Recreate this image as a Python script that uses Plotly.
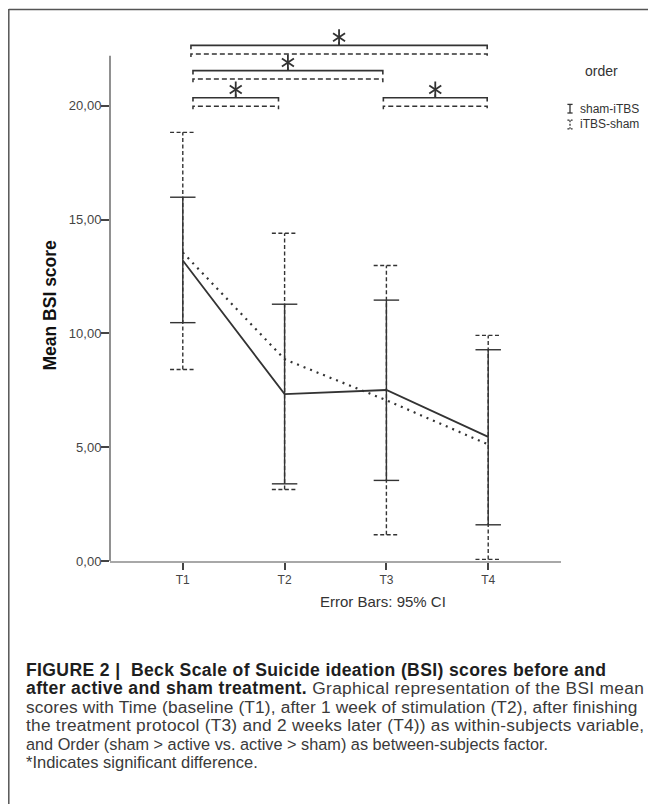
import plotly.graph_objects as go

# ---------------- data ----------------
times = ["T1", "T2", "T3", "T4"]
y_tick_vals = [0, 5, 10, 15, 20]
y_tick_text = ["0,00", "5,00", "10,00", "15,00", "20,00"]

sham_itbs_mean = [13.20, 7.33, 7.51, 5.45]
sham_itbs_lo = [10.47, 3.39, 3.54, 1.59]
sham_itbs_hi = [15.98, 11.28, 11.46, 9.28]

itbs_sham_mean = [13.55, 8.86, 7.06, 5.12]
itbs_sham_lo = [8.41, 3.14, 1.15, 0.07]
itbs_sham_hi = [18.83, 14.40, 12.98, 9.91]

series_names = ["sham-iTBS", "iTBS-sham"]

# significant comparisons (index of time points)
sig_pairs = [(0, 3), (0, 2), (0, 1), (2, 3)]

caption_bold = [
    "FIGURE 2 |  Beck Scale of Suicide ideation (BSI) scores before and",
    "after active and sham treatment.",
]
caption_regular = [
    " Graphical representation of the BSI mean",
    "scores with Time (baseline (T1), after 1 week of stimulation (T2), after finishing",
    "the treatment protocol (T3) and 2 weeks later (T4)) as within-subjects variable,",
    "and Order (sham &gt; active vs. active &gt; sham) as between-subjects factor.",
    "*Indicates significant difference.",
]
# per-line sizes / letter spacing (px) chosen so line widths match the reference
BOLD_SIZE = 17.6
BOLD_LS = 0.35
regular_sizes = [17.3, 17.3, 17.3, 16.3, 16.5]
regular_ls = [0.35, 0.15, 0.25, 0.0, 0.0]

# ---------------- layout constants ----------------
OFF = 8                      # default page (body) margin
W, H = 648, 796
ML, MR, MT, MB = 102, 95, 17, 243
PW = W - ML - MR
PH = H - MT - MB
Y_TOP = PH / 22.765
X_RANGE = [-0.715, 3.715]
CAP = 0.125
INK = "#333333"
FONT = "Liberation Sans, Arial"

bracket_solid_y = [22.65, 21.54, 20.35, 20.35]
bracket_dash_y = [22.27, 21.17, 19.98, 19.98]
bracket_x0_off = [0.08, 0.10, 0.10, -0.03]
bracket_x1_off = [-0.01, -0.035, -0.06, -0.01]
DROP = 0.17
STAR_UP = 0.36


def px2x(px):  # page px -> paper x
    return (px - OFF - ML) / PW


def py2y(py):  # page px -> paper y
    return (H - MB - (py - OFF)) / PH


xs = list(range(len(times)))
fig = go.Figure()


def errorbar_path(lo_vals, hi_vals):
    ex, ey = [], []
    for i in xs:
        lo, hi = lo_vals[i], hi_vals[i]
        ex += [i, i, None, i - CAP, i + CAP, None, i - CAP, i + CAP, None]
        ey += [lo, hi, None, hi, hi, None, lo, lo, None]
    return ex, ey


# error bars
ex, ey = errorbar_path(itbs_sham_lo, itbs_sham_hi)
fig.add_trace(go.Scatter(x=ex, y=ey, mode="lines", showlegend=False, hoverinfo="skip",
                         line=dict(color=INK, width=1.4, dash="4px,2.5px")))
ex, ey = errorbar_path(sham_itbs_lo, sham_itbs_hi)
fig.add_trace(go.Scatter(x=ex, y=ey, mode="lines", showlegend=False, hoverinfo="skip",
                         line=dict(color=INK, width=1.4)))

# mean lines
fig.add_trace(go.Scatter(x=xs, y=itbs_sham_mean, mode="lines", name=series_names[1],
                         showlegend=False, line=dict(color=INK, width=2.2, dash="2px,5px")))
fig.add_trace(go.Scatter(x=xs, y=sham_itbs_mean, mode="lines", name=series_names[0],
                         showlegend=False, line=dict(color=INK, width=1.8)))

# significance brackets
star_x, star_y = [], []
for k, (a, b) in enumerate(sig_pairs):
    x0 = a + bracket_x0_off[k]
    x1 = b + bracket_x1_off[k]
    xm = (x0 + x1) / 2
    ys = bracket_solid_y[k]
    yd = bracket_dash_y[k]
    fig.add_trace(go.Scatter(
        x=[x0, x0, xm, xm, xm, x1, x1],
        y=[ys - DROP, ys, ys, ys + 0.15, ys, ys, ys - DROP],
        mode="lines", showlegend=False, hoverinfo="skip",
        line=dict(color=INK, width=1.6)))
    fig.add_trace(go.Scatter(
        x=[x0, x0, x1, x1], y=[yd - DROP * 0.8, yd, yd, yd - DROP * 0.8],
        mode="lines", showlegend=False, hoverinfo="skip",
        line=dict(color=INK, width=1.5, dash="5px,3px")))
    star_x.append(xm)
    star_y.append(ys + STAR_UP)

for sym in ["y-up-open", "y-down-open"]:
    fig.add_trace(go.Scatter(x=star_x, y=star_y, mode="markers", showlegend=False,
                             hoverinfo="skip",
                             marker=dict(symbol=sym, size=10, color=INK,
                                         line=dict(color=INK, width=1.8))))

shapes = []
# y axis line
shapes.append(dict(type="line", xref="paper", yref="y", x0=0, x1=0, y0=0, y1=22.19,
                   line=dict(color="#555555", width=1.3)))
# frame (left and top edges visible)
shapes.append(dict(type="line", xref="paper", yref="paper",
                   x0=px2x(8.8), x1=px2x(8.8), y0=py2y(9), y1=py2y(820),
                   line=dict(color="#555555", width=1.5)))
shapes.append(dict(type="line", xref="paper", yref="paper",
                   x0=px2x(8.8), x1=px2x(700), y0=py2y(9.5), y1=py2y(9.5),
                   line=dict(color="#555555", width=1.5)))
# legend icons
ix = 570
for py, dash in [(108.7, "solid"), (124.5, "2px,1.5px")]:
    top, bot = py - 4.3, py + 4.3
    shapes.append(dict(type="line", xref="paper", yref="paper",
                       x0=px2x(ix), x1=px2x(ix), y0=py2y(top), y1=py2y(bot),
                       line=dict(color=INK, width=1.3, dash=dash)))
    for yy in (top, bot):
        shapes.append(dict(type="line", xref="paper", yref="paper",
                           x0=px2x(ix - 2.6), x1=px2x(ix + 2.6), y0=py2y(yy), y1=py2y(yy),
                           line=dict(color=INK, width=1.3, dash=dash)))

annotations = []
annotations.append(dict(text="order", xref="paper", yref="paper", x=px2x(601.5), y=py2y(71),
                        showarrow=False, xanchor="center", yanchor="middle",
                        font=dict(family=FONT, size=14, color=INK)))
for name, py in zip(series_names, [108.7, 124.5]):
    annotations.append(dict(text=name, xref="paper", yref="paper", x=px2x(578), y=py2y(py),
                            showarrow=False, xanchor="left", yanchor="middle",
                            font=dict(family=FONT, size=12, color=INK)))
annotations.append(dict(text="Error Bars: 95% CI", xref="paper", yref="paper",
                        x=px2x(383), y=py2y(601.7), showarrow=False,
                        xanchor="center", yanchor="middle",
                        font=dict(family=FONT, size=15, color=INK)))
annotations.append(dict(text="<b>Mean BSI score</b>", xref="paper", yref="paper",
                        x=px2x(49), y=py2y(305.5), showarrow=False, textangle=-90,
                        xanchor="center", yanchor="middle",
                        font=dict(family=FONT, size=17.5, color="#111111")))


# caption as one paragraph (tight leading: 1.3 x base size)
def bold(t):
    return (f"<span style='font-size:{BOLD_SIZE}px;letter-spacing:{BOLD_LS}px;"
            f"color:#1e1e1e'><b>{t}</b></span>")


def reg(t, s, ls):
    return f"<span style='font-size:{s}px;letter-spacing:{ls}px'>{t}</span>"


cap_lines = [
    bold(caption_bold[0]),
    bold(caption_bold[1]) + reg(caption_regular[0], regular_sizes[0], regular_ls[0]),
] + [reg(t, s, l) for t, s, l in zip(caption_regular[1:], regular_sizes[1:], regular_ls[1:])]
caption_text = "<br>".join(cap_lines)
annotations.append(dict(text=caption_text, xref="paper", yref="paper", x=px2x(24),
                        y=py2y(715), showarrow=False, xanchor="left", yanchor="middle",
                        align="left",
                        font=dict(family=FONT, size=18.4 / 1.3, color="#3a3a3a")))

fig.update_layout(
    width=W, height=H,
    margin=dict(l=ML, r=MR, t=MT, b=MB, pad=0),
    paper_bgcolor="white", plot_bgcolor="white",
    showlegend=False,
    shapes=shapes, annotations=annotations,
    xaxis=dict(range=X_RANGE, tickvals=xs, ticktext=times, showgrid=False, zeroline=False,
               showline=True, linecolor="#a8a8a8", linewidth=2,
               ticks="outside", ticklen=7, tickwidth=1.5, tickcolor="#444444",
               tickfont=dict(family=FONT, size=12, color="#444444"),
               fixedrange=True),
    yaxis=dict(range=[0, Y_TOP], tickvals=y_tick_vals, ticktext=y_tick_text, showgrid=False,
               zeroline=False, showline=False,
               ticks="outside", ticklen=8, tickwidth=1.5, tickcolor="#444444",
               ticklabelstandoff=-3,
               tickfont=dict(family=FONT, size=13, color="#444444"),
               fixedrange=True),
)

fig.write_html("out.html")
